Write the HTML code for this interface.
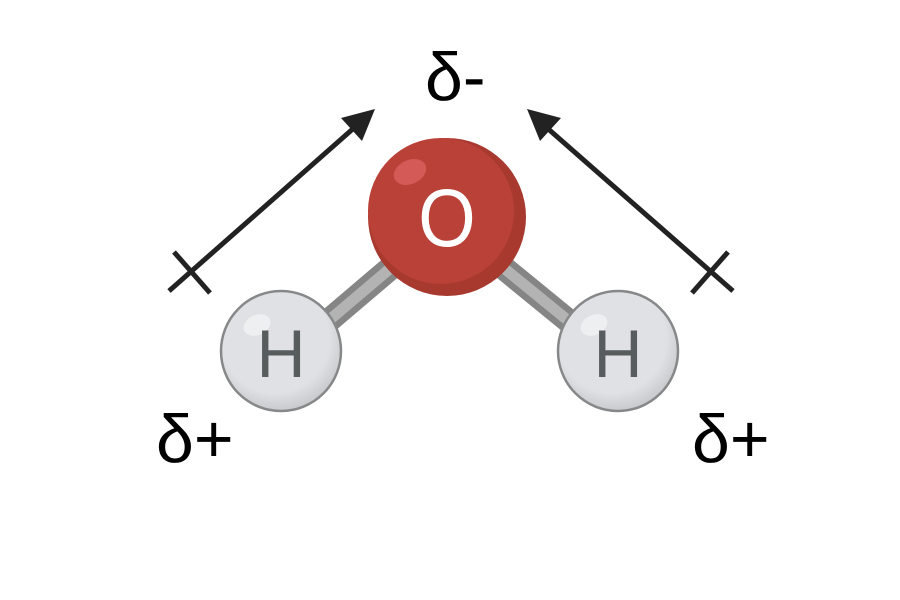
<!DOCTYPE html>
<html><head><style>body{margin:0;background:#fff}svg{display:block}</style></head>
<body>
<svg width="900" height="600" viewBox="0 0 900 600" xmlns="http://www.w3.org/2000/svg">
<defs>
<radialGradient id="hg" cx="0.45" cy="0.4" r="0.6"><stop offset="0.75" stop-color="#e0e1e4"/><stop offset="1" stop-color="#c9cacd"/></radialGradient>
</defs>
<g stroke-linecap="butt">
<line x1="400" y1="260" x2="300" y2="345" stroke="#858585" stroke-width="24"/>
<line x1="400" y1="260" x2="300" y2="345" stroke="#b3b3b3" stroke-width="11"/>
<line x1="494" y1="260" x2="598" y2="345" stroke="#858585" stroke-width="24"/>
<line x1="494" y1="260" x2="598" y2="345" stroke="#b3b3b3" stroke-width="11"/>
</g>
<circle cx="447" cy="217" r="79" fill="#a8392f"/>
<ellipse cx="441" cy="211" rx="73" ry="73" fill="#b94137"/>
<ellipse cx="410" cy="172" rx="17" ry="12" fill="#d35a57" transform="rotate(-25 410 172)"/>
<text x="447" y="246" font-family="Liberation Sans, sans-serif" font-size="82" fill="#fff" text-anchor="middle" transform="translate(447 0) scale(0.9 1) translate(-447 0)">O</text>
<circle cx="281" cy="351" r="60" fill="url(#hg)" stroke="#868889" stroke-width="2.5"/>
<ellipse cx="257" cy="325" rx="14" ry="10" fill="#eeeff0" transform="rotate(-25 257 325)"/>
<text x="281" y="377" font-family="Liberation Sans, sans-serif" font-size="68" fill="#575c5c" text-anchor="middle">H</text>
<circle cx="618" cy="351" r="60" fill="url(#hg)" stroke="#868889" stroke-width="2.5"/>
<ellipse cx="594" cy="325" rx="14" ry="10" fill="#eeeff0" transform="rotate(-25 594 325)"/>
<text x="618" y="377" font-family="Liberation Sans, sans-serif" font-size="68" fill="#575c5c" text-anchor="middle">H</text>
<g stroke="#222" stroke-width="5" fill="none">
<line x1="169" y1="291" x2="355" y2="127"/>
<line x1="174" y1="252" x2="210" y2="293"/>
<line x1="733" y1="291" x2="546" y2="127"/>
<line x1="728" y1="252" x2="692" y2="293"/>
</g>
<polygon points="375,109 341,118 362,141" fill="#222"/>
<polygon points="527,109 561,118 540,141" fill="#222"/>
<g font-family="Liberation Sans, DejaVu Sans, sans-serif" font-size="68" fill="#000">
<text x="425" y="100">δ-</text>
<text x="156" y="462">δ+</text>
<text x="692" y="462">δ+</text>
</g>
</svg>
</body></html>
